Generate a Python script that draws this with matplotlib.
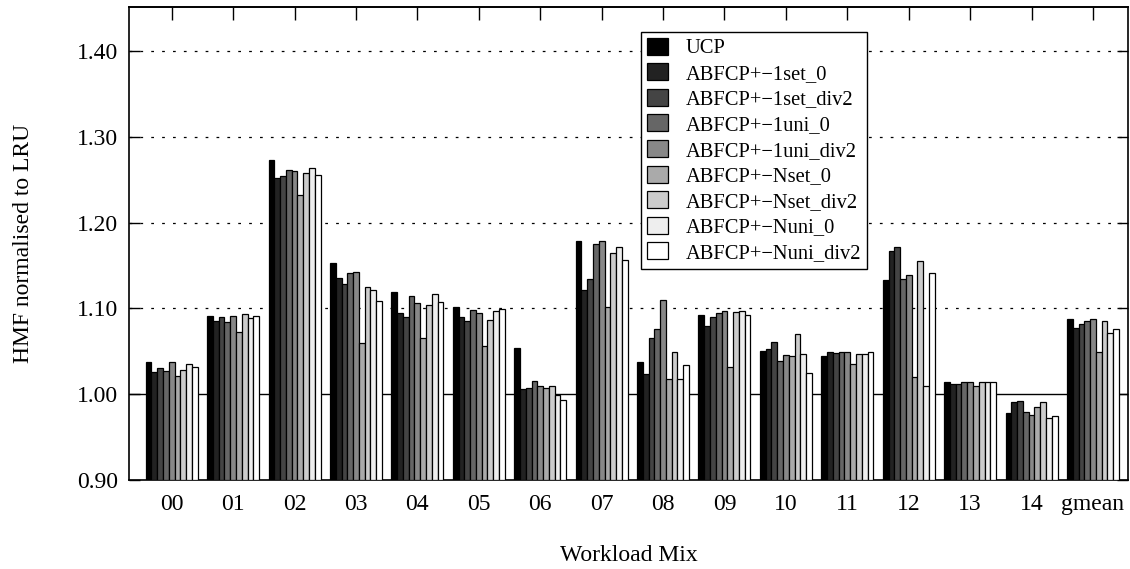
import matplotlib
matplotlib.use("Agg")
import matplotlib.pyplot as plt
import numpy as np

plt.rcParams['font.family'] = ['Liberation Serif', 'DejaVu Serif']

categories = ["00", "01", "02", "03", "04", "05", "06", "07", "08", "09",
              "10", "11", "12", "13", "14", "gmean"]

series_names = ["UCP", "ABFCP+\u22121set_0", "ABFCP+\u22121set_div2",
                "ABFCP+\u22121uni_0", "ABFCP+\u22121uni_div2",
                "ABFCP+\u2212Nset_0", "ABFCP+\u2212Nset_div2",
                "ABFCP+\u2212Nuni_0", "ABFCP+\u2212Nuni_div2"]

ucp        = [1.038, 1.091, 1.273, 1.153, 1.119, 1.102, 1.054, 1.178, 1.038, 1.092, 1.050, 1.044, 1.133, 1.014, 0.978, 1.088]
set1_0     = [1.026, 1.085, 1.252, 1.135, 1.095, 1.090, 1.006, 1.121, 1.024, 1.080, 1.053, 1.049, 1.167, 1.012, 0.991, 1.077]
set1_div2  = [1.031, 1.090, 1.254, 1.129, 1.090, 1.085, 1.007, 1.134, 1.065, 1.090, 1.061, 1.048, 1.171, 1.012, 0.992, 1.082]
uni1_0     = [1.027, 1.084, 1.261, 1.141, 1.114, 1.098, 1.015, 1.175, 1.076, 1.095, 1.039, 1.049, 1.134, 1.014, 0.979, 1.085]
uni1_div2  = [1.037, 1.091, 1.260, 1.142, 1.106, 1.095, 1.010, 1.179, 1.110, 1.097, 1.046, 1.049, 1.139, 1.014, 0.976, 1.088]
setN_0     = [1.021, 1.072, 1.232, 1.060, 1.066, 1.056, 1.007, 1.102, 1.018, 1.032, 1.044, 1.035, 1.020, 1.009, 0.985, 1.049]
setN_div2  = [1.028, 1.094, 1.258, 1.125, 1.104, 1.086, 1.010, 1.165, 1.049, 1.096, 1.070, 1.047, 1.155, 1.014, 0.991, 1.085]
uniN_0     = [1.035, 1.089, 1.264, 1.121, 1.117, 1.097, 0.999, 1.172, 1.018, 1.097, 1.047, 1.047, 1.009, 1.014, 0.972, 1.071]
uniN_div2  = [1.032, 1.091, 1.255, 1.109, 1.108, 1.099, 0.993, 1.156, 1.034, 1.092, 1.025, 1.049, 1.141, 1.014, 0.975, 1.076]

series = [ucp, set1_0, set1_div2, uni1_0, uni1_div2, setN_0, setN_div2, uniN_0, uniN_div2]
colors = ["#000000", "#222222", "#444444", "#666666", "#888888",
          "#aaaaaa", "#cccccc", "#eeeeee", "#ffffff"]

yticks = [0.90, 1.00, 1.10, 1.20, 1.30, 1.40]
ytick_labels = ["0.90", "1.00", "1.10", "1.20", "1.30", "1.40"]

fig = plt.figure(figsize=(11.3, 5.69), dpi=100)
ax = fig.add_axes([129/1130, 1 - 480/569, (1128-129)/1130, (480-7)/569])

base = 0.90
n = len(series)
bw = 0.094
x = np.arange(len(categories))
for i, (vals, c, name) in enumerate(zip(series, colors, series_names)):
    offs = (i - (n - 1) / 2) * bw
    ax.bar(x + offs, np.array(vals) - base, width=bw, bottom=base, color=c,
           edgecolor="black", linewidth=0.9, label=name, zorder=3)

for yv in [1.10, 1.20, 1.30, 1.40]:
    ax.axhline(yv, color="black", lw=0.9, linestyle=(0, (2.2, 6.5)), zorder=1)
ax.axhline(1.00, color="black", lw=1.0, zorder=1)

ax.set_xlim(-0.695, 15.57)
ax.set_ylim(0.90, 1.4513)
ax.set_xticks(x)
ax.set_xticklabels(categories, fontsize=17)
ax.set_yticks(yticks)
ax.set_yticklabels(ytick_labels, fontsize=17)
ax.tick_params(axis='y', direction='in', length=8, width=1, right=True, pad=8)
ax.tick_params(axis='x', direction='in', length=0, top=False, pad=10)
# top ticks at group positions
axt = ax.secondary_xaxis('top')
axt.set_xticks(x)
axt.set_xticklabels([])
axt.tick_params(direction='in', length=9, width=1)
for s in ax.spines.values():
    s.set_linewidth(1.2)
axt.spines['top'].set_linewidth(1.2)

ax.set_xlabel("Workload Mix", fontsize=17, labelpad=22)
ax.set_ylabel("HMF normalised to LRU", fontsize=17, labelpad=31)

leg = ax.legend(loc='upper left', bbox_to_anchor=(641/1130, 1 - 32/569),
                bbox_transform=fig.transFigure, fontsize=14.8, frameon=True,
                fancybox=False, edgecolor="black", framealpha=1,
                handlelength=1.05, handleheight=0.9, labelspacing=0.24,
                handletextpad=0.85, borderpad=0.28, borderaxespad=0)
leg.get_frame().set_linewidth(1.0)
leg.set_zorder(5)

fig.savefig("out.png", dpi=100)
